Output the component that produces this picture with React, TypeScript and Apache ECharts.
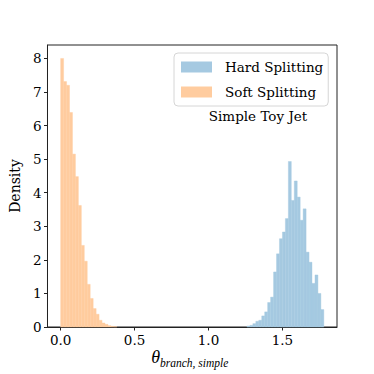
import React, { useEffect, useRef } from "react";
import * as echarts from "echarts";

// ---- data ----
const binWidth = 0.02;
const softStart = 0.0;
const hardStart = 1.26;
const softDensity = [8.0, 7.31, 7.2, 6.39, 5.15, 4.48, 3.62, 2.43, 1.96, 1.27, 0.85, 0.55, 0.38, 0.2, 0.12, 0.08, 0.04, 0.02, 0.01];
const hardDensity = [0.03, 0.05, 0.1, 0.17, 0.2, 0.33, 0.45, 0.73, 0.89, 1.64, 2.18, 2.63, 2.83, 3.23, 4.93, 3.77, 4.35, 3.87, 3.18, 3.52, 2.23, 1.93, 1.3, 1.55, 1.0, 0.52];
const xTicks = [0, 0.5, 1.0, 1.5];
const xRange = [-0.089, 1.869];
const yRange = [0, 8.4];
const seriesNames = ["Hard Splitting", "Soft Splitting"];
const seriesColors = ["#a5c9e1", "#ffcc9f"];
const annotation = "Simple Toy Jet";
const yTitle = "Density";
const xTitleMain = "θ";
const xTitleSub = "branch, simple";

const SERIF = "DejaVu Serif";

function toBins(start: number, values: number[]) {
  return values.map((v, i) => [start + i * binWidth, start + (i + 1) * binWidth, v]);
}

export default function App() {
  const ref = useRef<HTMLDivElement>(null);
  useEffect(() => {
    if (!ref.current) return;
    const chart = echarts.init(ref.current, undefined, { renderer: "svg" });
    const renderItem = (params: any, api: any) => {
      const x0 = api.value(0);
      const x1 = api.value(1);
      const h = api.value(2);
      const p0 = api.coord([x0, h]);
      const p1 = api.coord([x1, 0]);
      const c = api.visual("color");
      return {
        type: "rect",
        shape: { x: p0[0], y: p0[1], width: p1[0] - p0[0], height: p1[1] - p0[1] },
        style: { fill: c, stroke: c, lineWidth: 0.4 },
      };
    };
    chart.setOption({
      animation: false,
      backgroundColor: "#ffffff",
      grid: {
        left: 47,
        right: 37,
        top: 45,
        bottom: 47,
        containLabel: false,
        show: true,
        borderColor: "#222",
        borderWidth: 1,
        backgroundColor: "transparent",
      },
      xAxis: {
        type: "value",
        min: xRange[0],
        max: xRange[1],
        splitLine: { show: false },
        axisLine: { show: true, onZero: false, lineStyle: { color: "#222", width: 1 } },
        axisTick: { show: true, length: 3.5, customValues: xTicks, lineStyle: { color: "#222" } },
        axisLabel: {
          customValues: xTicks,
          formatter: (v: number) => v.toFixed(1),
          color: "#000",
          fontFamily: SERIF,
          fontSize: 13.5,
          margin: 6,
        },
      },
      yAxis: {
        type: "value",
        min: yRange[0],
        max: yRange[1],
        interval: 1,
        name: yTitle,
        nameLocation: "middle",
        nameGap: 20,
        nameRotate: 90,
        nameTextStyle: { color: "#000", fontFamily: SERIF, fontSize: 14 },
        splitLine: { show: false },
        axisLine: { show: true, onZero: false, lineStyle: { color: "#222", width: 1 } },
        axisTick: { show: true, length: 3.5, lineStyle: { color: "#222" } },
        axisLabel: {
          color: "#000",
          fontFamily: SERIF,
          fontSize: 13.5,
          margin: 6,
          showMaxLabel: false,
          formatter: (v: number) => (v > 8 ? "" : String(v)),
        },
      },
      legend: {
        orient: "vertical",
        left: 174,
        top: 53,
        padding: [7, 5, 7, 7],
        itemWidth: 31,
        itemHeight: 11,
        itemGap: 11,
        icon: "rect",
        backgroundColor: "#ffffff",
        borderColor: "#d6d6d6",
        borderWidth: 1,
        borderRadius: 4,
        data: seriesNames,
        textStyle: {
          color: "#000",
          fontFamily: SERIF,
          fontSize: 13.5,
          lineHeight: 11,
          padding: [0, 0, 0, 8],
        },
      },
      graphic: [
        {
          type: "text",
          x: 258,
          y: 116,
          style: {
            text: annotation,
            fill: "#000",
            font: `13.5px "${SERIF}"`,
            align: "center",
            verticalAlign: "middle",
          },
        },
        {
          type: "text",
          x: 160,
          y: 357,
          style: {
            text: xTitleMain,
            fill: "#000",
            font: `italic 18px "Liberation Serif"`,
            align: "right",
            verticalAlign: "middle",
          },
        },
        {
          type: "text",
          x: 160,
          y: 363,
          style: {
            text: xTitleSub,
            fill: "#000",
            font: `italic 11.5px "Liberation Serif"`,
            align: "left",
            verticalAlign: "middle",
          },
        },
      ],
      series: [
        {
          name: seriesNames[0],
          type: "custom",
          renderItem,
          itemStyle: { color: seriesColors[0] },
          encode: { x: [0, 1], y: 2 },
          data: toBins(hardStart, hardDensity),
        },
        {
          name: seriesNames[1],
          type: "custom",
          renderItem,
          itemStyle: { color: seriesColors[1] },
          encode: { x: [0, 1], y: 2 },
          data: toBins(softStart, softDensity),
        },
      ],
    });
    return () => chart.dispose();
  }, []);
  return <div ref={ref} style={{ width: 374, height: 374, position: "absolute", left: 0, top: 0 }} />;
}
